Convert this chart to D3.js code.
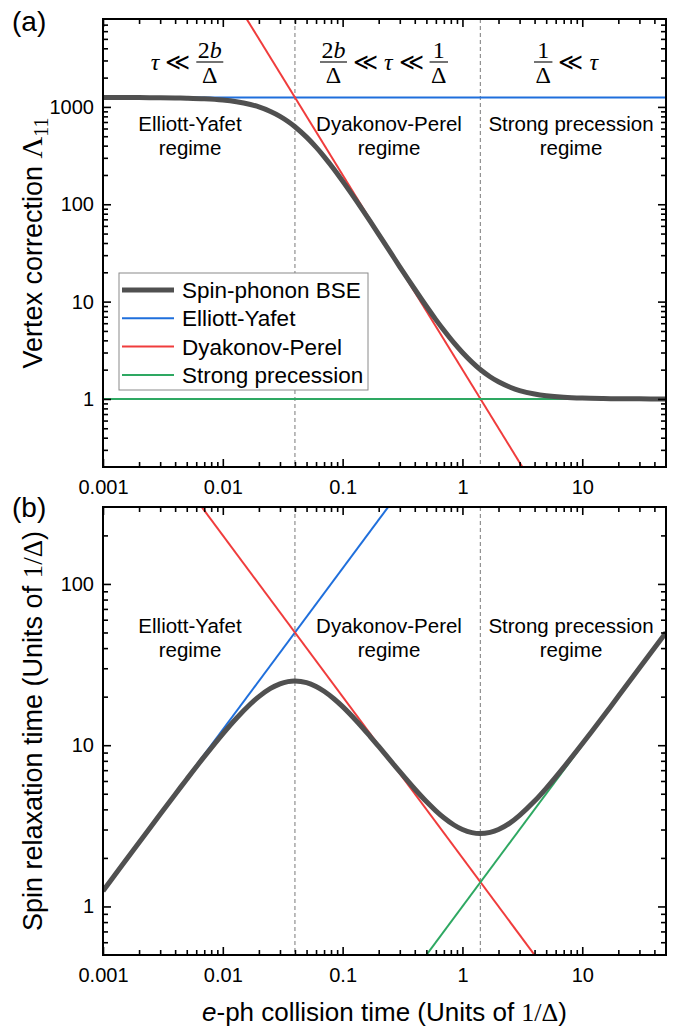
<!DOCTYPE html>
<html>
<head>
<meta charset="utf-8">
<script src="https://cdn.jsdelivr.net/npm/d3@7"></script>
<style>
  body { margin: 0; background: #fff; }
  svg { display: block; }
  text { font-family: "Liberation Sans", Arial, sans-serif; fill: #000; }
  .math text { font-family: "Liberation Serif", "DejaVu Serif", serif; }
</style>
</head>
<body>
<svg width="687" height="1032"></svg>
<script>
// collision time tau (units of 1/Delta) and the spin-phonon BSE curves
const tau = [0.001, 0.0015, 0.002, 0.003, 0.004, 0.005, 0.007, 0.01, 0.013, 0.017, 0.02, 0.025,
  0.03, 0.035, 0.04, 0.05, 0.06, 0.07, 0.085, 0.1, 0.13, 0.17, 0.2, 0.25, 0.3, 0.4, 0.5, 0.6,
  0.7, 0.85, 1, 1.2, 1.4, 1.7, 2, 2.5, 3, 4, 5, 7, 10, 15, 20, 30, 50];
const vertexBSE = [1249, 1248, 1247, 1243, 1238, 1231, 1213, 1177, 1131, 1059, 1000, 899,
  801, 709, 626, 489, 386, 309, 228, 173, 109, 66.6, 49.1, 32.2, 22.8, 13.4, 8.95, 6.53,
  5.07, 3.76, 3.00, 2.39, 2.02, 1.69, 1.50, 1.32, 1.22, 1.125, 1.08, 1.041, 1.02, 1.009, 1.005, 1.002, 1.001];
const relaxBSE = [1.249, 1.872, 2.494, 3.729, 4.950, 6.154, 8.49, 11.77, 14.70, 18.00, 20.01, 22.48,
  24.02, 24.80, 25.03, 24.43, 23.13, 21.60, 19.35, 17.34, 14.18, 11.32, 9.82, 8.05, 6.85, 5.35, 4.47, 3.92,
  3.55, 3.20, 3.00, 2.87, 2.83, 2.88, 3.00, 3.30, 3.67, 4.50, 5.40, 7.29, 10.2, 15.1, 20.1, 30.1, 50.0];

// limiting regimes, straight lines on log-log axes: [tau, value] end points
const eyVertex = [[0.001, 1250], [50, 1250]];
const dpVertex = [[0.01, 20000], [5, 0.08]];
const spVertex = [[0.001, 1], [50, 1]];
const eyRelax = [[0.001, 1.25], [0.4, 500]];
const dpRelax = [[0.004, 500], [5, 0.4]];
const spRelax = [[0.3, 0.3], [50, 50]];

const regimeBounds = [0.04, 1.41];
const regimeNames = [["Elliott-Yafet", "regime"], ["Dyakonov-Perel", "regime"], ["Strong precession", "regime"]];
const legendNames = ["Spin-phonon BSE", "Elliott-Yafet", "Dyakonov-Perel", "Strong precession"];

const xTicks = [0.001, 0.01, 0.1, 1, 10];
const xTickLabels = ["0.001", "0.01", "0.1", "1", "10"];
const yTicksA = [1, 10, 100, 1000];
const yTicksB = [1, 10, 100];

const colors = { bse: "#505050", ey: "#1f6fdc", dp: "#f03c3c", sp: "#2ea862" };

const svg = d3.select("svg");
const left = 103, right = 666;
const panelA = { top: 19, bottom: 467 };
const panelB = { top: 507, bottom: 955 };

const x = d3.scaleLog().domain([0.001, 50]).range([left, right]);
const yA = d3.scaleLog().domain([0.2, 8000]).range([panelA.bottom, panelA.top]);
const yB = d3.scaleLog().domain([0.5, 300]).range([panelB.bottom, panelB.top]);

let minorTicks = (lo, hi) => {
  let out = [];
  for (let e = Math.floor(Math.log10(lo)); e <= Math.ceil(Math.log10(hi)); e++) {
    for (let m = 2; m <= 9; m++) {
      let v = m * Math.pow(10, e);
      if (v > lo * 1.0001 && v < hi * 0.9999) out.push(v);
    }
  }
  return out;
};

let draw_axes = (g, y, yTicks, panel) => {
  let xMin = minorTicks(0.001, 50), yMin = minorTicks(y.domain()[0], y.domain()[1]);
  let fmt = d => xTickLabels[xTicks.indexOf(d)];

  let style = sel => {
    sel.select(".domain").remove();
    sel.selectAll(".tick line").attr("stroke", "#000").attr("stroke-width", 1.6);
    sel.selectAll("text").attr("font-size", 20).attr("fill", "#000")
      .attr("font-family", "'Liberation Sans', Arial, sans-serif");
  };

  g.append("g").attr("transform", `translate(0,${panel.bottom})`)
    .call(d3.axisBottom(x).tickValues(xTicks).tickFormat(fmt).tickSize(-8).tickPadding(13)).call(style);
  g.append("g").attr("transform", `translate(0,${panel.bottom})`)
    .call(d3.axisBottom(x).tickValues(xMin).tickFormat("").tickSize(-5)).call(style);
  g.append("g").attr("transform", `translate(0,${panel.top})`)
    .call(d3.axisTop(x).tickValues(xTicks).tickFormat("").tickSize(-8)).call(style);
  g.append("g").attr("transform", `translate(0,${panel.top})`)
    .call(d3.axisTop(x).tickValues(xMin).tickFormat("").tickSize(-5)).call(style);

  g.append("g").attr("transform", `translate(${left},0)`)
    .call(d3.axisLeft(y).tickValues(yTicks).tickFormat(d3.format("d")).tickSize(-8).tickPadding(9)).call(style);
  g.append("g").attr("transform", `translate(${left},0)`)
    .call(d3.axisLeft(y).tickValues(yMin).tickFormat("").tickSize(-5)).call(style);
  g.append("g").attr("transform", `translate(${right},0)`)
    .call(d3.axisRight(y).tickValues(yTicks).tickFormat("").tickSize(-8)).call(style);
  g.append("g").attr("transform", `translate(${right},0)`)
    .call(d3.axisRight(y).tickValues(yMin).tickFormat("").tickSize(-5)).call(style);

  g.append("rect")
    .attr("x", left).attr("y", panel.top)
    .attr("width", right - left).attr("height", panel.bottom - panel.top)
    .attr("fill", "none").attr("stroke", "#000").attr("stroke-width", 2);
};

let draw_panel = (id, y, panel, bse, ey, dp, sp, yTicks) => {
  svg.append("clipPath").attr("id", id)
    .append("rect").attr("x", left).attr("y", panel.top)
    .attr("width", right - left).attr("height", panel.bottom - panel.top);

  const g = svg.append("g");
  const plot = g.append("g").attr("clip-path", `url(#${id})`);

  plot.selectAll("line.bound").data(regimeBounds).join("line")
    .attr("x1", d => x(d)).attr("x2", d => x(d))
    .attr("y1", panel.top).attr("y2", panel.bottom)
    .attr("stroke", "#7a7a7a").attr("stroke-width", 1).attr("stroke-dasharray", "4,3");

  const straight = d3.line().x(d => x(d[0])).y(d => y(d[1]));
  [[ey, colors.ey], [dp, colors.dp], [sp, colors.sp]].forEach(([pts, c]) => {
    plot.append("path").attr("d", straight(pts))
      .attr("fill", "none").attr("stroke", c).attr("stroke-width", 2);
  });

  const curve = d3.line()
    .x((d, i) => x(tau[i])).y(d => y(d))
    .curve(d3.curveCatmullRom.alpha(0.5));
  plot.append("path").attr("d", curve(bse))
    .attr("fill", "none").attr("stroke", colors.bse).attr("stroke-width", 5);

  draw_axes(g, y, yTicks, panel);
  return g;
};

const gA = draw_panel("clipA", yA, panelA, vertexBSE, eyVertex, dpVertex, spVertex, yTicksA);
const gB = draw_panel("clipB", yB, panelB, relaxBSE, eyRelax, dpRelax, spRelax, yTicksB);

// regime names
let regimeX = [190, 389, 571];
[[gA, 131], [gB, 633]].forEach(([g, base]) => {
  regimeNames.forEach((lines, i) => {
    const t = g.append("text").attr("text-anchor", "middle").attr("font-size", 20.5);
    lines.forEach((s, k) => t.append("tspan").attr("x", regimeX[i]).attr("y", base + k * 24).text(s));
  });
});

// regime conditions (panel a, top)
let math_group = (cx, items) => {
  const grp = svg.append("g").attr("class", "math");
  let pos = 0, gap = 6;
  items.forEach(it => {
    if (Array.isArray(it)) {
      const n = grp.append("text").attr("text-anchor", "middle").attr("y", 58).attr("font-size", 24).text(it[0]);
      const d = grp.append("text").attr("text-anchor", "middle").attr("y", 83).attr("font-size", 24).text(it[1]);
      const w = Math.max(n.node().getComputedTextLength(), d.node().getComputedTextLength()) + 3;
      n.attr("x", pos + w / 2);
      d.attr("x", pos + w / 2);
      grp.append("line").attr("x1", pos).attr("x2", pos + w).attr("y1", 62).attr("y2", 62)
        .attr("stroke", "#000").attr("stroke-width", 1.1);
      pos += w + gap;
    } else {
      const t = grp.append("text").attr("x", pos).attr("y", 70).attr("font-size", 24)
        .attr("font-style", it === "τ" ? "italic" : "normal").text(it);
      pos += t.node().getComputedTextLength() + gap;
    }
  });
  grp.attr("transform", `translate(${cx - (pos - gap) / 2},0)`);
};
math_group(187, ["τ", "≪", ["2b", "Δ"]]);
math_group(384, [["2b", "Δ"], "≪", "τ", "≪", ["1", "Δ"]]);
math_group(566, [["1", "Δ"], "≪", "τ"]);

// italic b in the numerators
svg.selectAll(".math text").each(function () {
  const s = d3.select(this);
  if (s.text() === "2b") {
    s.text("");
    s.append("tspan").text("2");
    s.append("tspan").attr("font-style", "italic").text("b");
  }
});

// legend
const leg = gA.append("g");
leg.append("rect").attr("x", 119).attr("y", 273).attr("width", 249).attr("height", 117)
  .attr("fill", "#fff").attr("stroke", "#8a8a8a").attr("stroke-width", 1);
const legColors = [colors.bse, colors.ey, colors.dp, colors.sp];
legendNames.forEach((name, i) => {
  const yy = 290 + i * 28.3;
  leg.append("line").attr("x1", 122).attr("x2", 174).attr("y1", yy).attr("y2", yy)
    .attr("stroke", legColors[i]).attr("stroke-width", i === 0 ? 5 : 2);
  leg.append("text").attr("x", 182).attr("y", yy + 8).attr("font-size", 22.5).text(name);
});

// panel labels
svg.append("text").attr("x", 12).attr("y", 31).attr("font-size", 28).text("(a)");
svg.append("text").attr("x", 12).attr("y", 517).attr("font-size", 28).text("(b)");

// axis titles
const serif = "'Liberation Serif', 'DejaVu Serif', serif";
const tA = svg.append("text").attr("transform", `translate(42,${(panelA.top + panelA.bottom) / 2}) rotate(-90)`)
  .attr("text-anchor", "middle").attr("font-size", 27);
tA.append("tspan").text("Vertex correction ");
tA.append("tspan").attr("font-family", serif).attr("font-size", 30).text("Λ");
tA.append("tspan").attr("font-family", serif).attr("font-size", 20).attr("dy", 6).text("11");

const tB = svg.append("text").attr("transform", `translate(42,${(panelB.top + panelB.bottom) / 2}) rotate(-90)`)
  .attr("text-anchor", "middle").attr("font-size", 27);
tB.append("tspan").text("Spin relaxation time (Units of ");
tB.append("tspan").attr("font-family", serif).text("1/Δ");
tB.append("tspan").text(")");

const tX = svg.append("text").attr("x", (left + right) / 2).attr("y", 1021)
  .attr("text-anchor", "middle").attr("font-size", 26);
tX.append("tspan").attr("font-style", "italic").text("e");
tX.append("tspan").text("-ph collision time (Units of ");
tX.append("tspan").attr("font-family", serif).text("1/Δ");
tX.append("tspan").text(")");
</script>
</body>
</html>
